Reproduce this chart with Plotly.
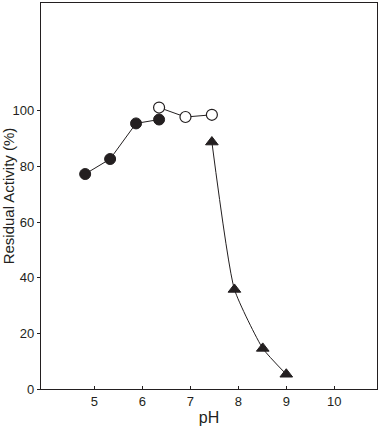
import plotly.graph_objects as go

ph_filled = [4.81, 5.33, 5.87, 6.35]
act_filled = [77.3, 82.7, 95.5, 96.9]

ph_open = [6.35, 6.90, 7.45]
act_open = [101.2, 97.8, 98.6]

ph_tri = [7.45, 7.92, 8.51, 9.00]
act_tri = [88.8, 35.8, 14.6, 5.3]

x_ticks = [5, 6, 7, 8, 9, 10]
y_ticks = [0, 20, 40, 60, 80, 100]

ink = "#231f20"

fig = go.Figure()
fig.add_trace(go.Scatter(
    x=ph_filled, y=act_filled, mode="lines+markers",
    line=dict(color=ink, width=1),
    marker=dict(symbol="circle", size=11, color=ink, line=dict(color=ink, width=1)),
))
fig.add_trace(go.Scatter(
    x=ph_open, y=act_open, mode="lines+markers",
    line=dict(color=ink, width=1),
    marker=dict(symbol="circle", size=11, color="white", line=dict(color=ink, width=1.2)),
))
fig.add_trace(go.Scatter(
    x=ph_tri, y=act_tri, mode="lines+markers",
    line=dict(color=ink, width=1, shape="spline", smoothing=0.5),
    marker=dict(symbol="triangle-up", size=11, color=ink, line=dict(color=ink, width=1)),
))

fig.update_layout(
    width=379, height=429,
    margin=dict(l=41, r=2, t=3, b=40, autoexpand=False),
    paper_bgcolor="white", plot_bgcolor="white",
    showlegend=False,
    font=dict(family="Liberation Sans, Arial, sans-serif", color=ink, size=13),
)
fig.update_xaxes(
    range=[3.89, 10.89], tickvals=x_ticks, ticktext=[str(v) for v in x_ticks],
    ticks="inside", ticklen=3, tickwidth=1, tickcolor=ink,
    showline=True, linecolor=ink, linewidth=1.3, mirror=True,
    showgrid=False, zeroline=False,
    title=dict(text="pH", font=dict(size=16), standoff=4),
    tickfont=dict(size=13),
)
fig.update_yaxes(
    range=[0, 138.8], tickvals=y_ticks, ticktext=[str(v) for v in y_ticks],
    ticks="outside", ticklen=3, tickwidth=1, tickcolor=ink,
    showline=True, linecolor=ink, linewidth=1.3, mirror=True,
    showgrid=False, zeroline=False,
    title=dict(text="Residual Activity (%)", font=dict(size=15), standoff=5),
    tickfont=dict(size=13),
)

fig.write_html("out.html", config={"displayModeBar": False},
               post_script="document.body.style.margin='0';")
